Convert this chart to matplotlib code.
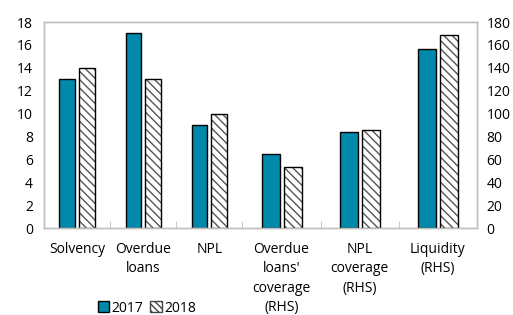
#!/usr/bin/env python3
"""Bank indicators 2017 vs 2018, left and right hand scales."""

import matplotlib

matplotlib.use("Agg")
import matplotlib.pyplot as plt  # noqa: E402
from matplotlib.patches import Patch  # noqa: E402

LHS_CATS = ["Solvency", "Overdue\nloans", "NPL"]
LHS_2017 = [13.0, 17.0, 9.0]
LHS_2018 = [14.0, 13.0, 10.0]

RHS_CATS = ["Overdue\nloans'\ncoverage\n(RHS)", "NPL\ncoverage\n(RHS)", "Liquidity\n(RHS)"]
RHS_2017 = [65.0, 84.0, 156.0]
RHS_2018 = [53.0, 86.0, 169.0]

TEAL = "#0089aa"
GREY = "#bfbfbf"

# the right-hand groups are a bit wider than the left ones
RHS_SPAN = 78 / 66

plt.rcParams.update({"font.family": ["Open Sans", "DejaVu Sans"], "font.size": 10})

fig = plt.figure(figsize=(5.13, 3.15), dpi=100)
ax = fig.add_axes([44 / 513, 1 - 228 / 315, 433 / 513, 206 / 315])
ax2 = ax.twinx()

lhs_x = [i + 0.5 for i in range(len(LHS_CATS))]
rhs_x = [3 + (i + 0.5) * RHS_SPAN for i in range(len(RHS_CATS))]


def draw(axis, xs, v17, v18, width, off):
    axis.bar([x - off for x in xs], v17, width, color=TEAL, edgecolor="black", linewidth=1.0)
    axis.bar([x + off for x in xs], v18, width, color="white", edgecolor="#555555",
             hatch="\\\\\\\\", linewidth=0)
    axis.bar([x + off for x in xs], v18, width, color="none", edgecolor="black", linewidth=1.0)


draw(ax, lhs_x, LHS_2017, LHS_2018, 15.5 / 66, 9.8 / 66)
draw(ax2, rhs_x, RHS_2017, RHS_2018, 18 / 66, 11 / 66)

ax.set_xlim(0, 3 + 3 * RHS_SPAN)
ax.set_ylim(0, 18)
ax.set_yticks(range(0, 19, 2))
ax2.set_ylim(0, 180)
ax2.set_yticks(range(0, 181, 20))

ax.set_xticks(lhs_x + rhs_x)
ax.set_xticklabels(LHS_CATS + RHS_CATS, va="top", linespacing=1.4)
ax.set_xticks([1, 2, 3, 3 + RHS_SPAN, 3 + 2 * RHS_SPAN], minor=True)
ax.tick_params(axis="x", which="major", length=0, pad=10)
ax.tick_params(axis="x", which="minor", direction="in", length=5, color=GREY)
ax.tick_params(axis="y", length=0, pad=8)
ax2.tick_params(axis="y", length=0, pad=7)

for a in (ax, ax2):
    for sp in a.spines.values():
        sp.set_color(GREY)
        sp.set_linewidth(1.0)

handles = [
    Patch(facecolor=TEAL, edgecolor="black", label="2017"),
    Patch(facecolor="white", edgecolor="#444444", hatch="\\\\\\\\\\", label="2018"),
]
fig.legend(handles=handles, loc="center", bbox_to_anchor=(147 / 513, 1 - 308 / 315),
           ncol=2, frameon=False, handlelength=0.8, handleheight=0.8,
           handletextpad=0.2, columnspacing=0.5, borderaxespad=0)

fig.savefig("out.png", dpi=100)
